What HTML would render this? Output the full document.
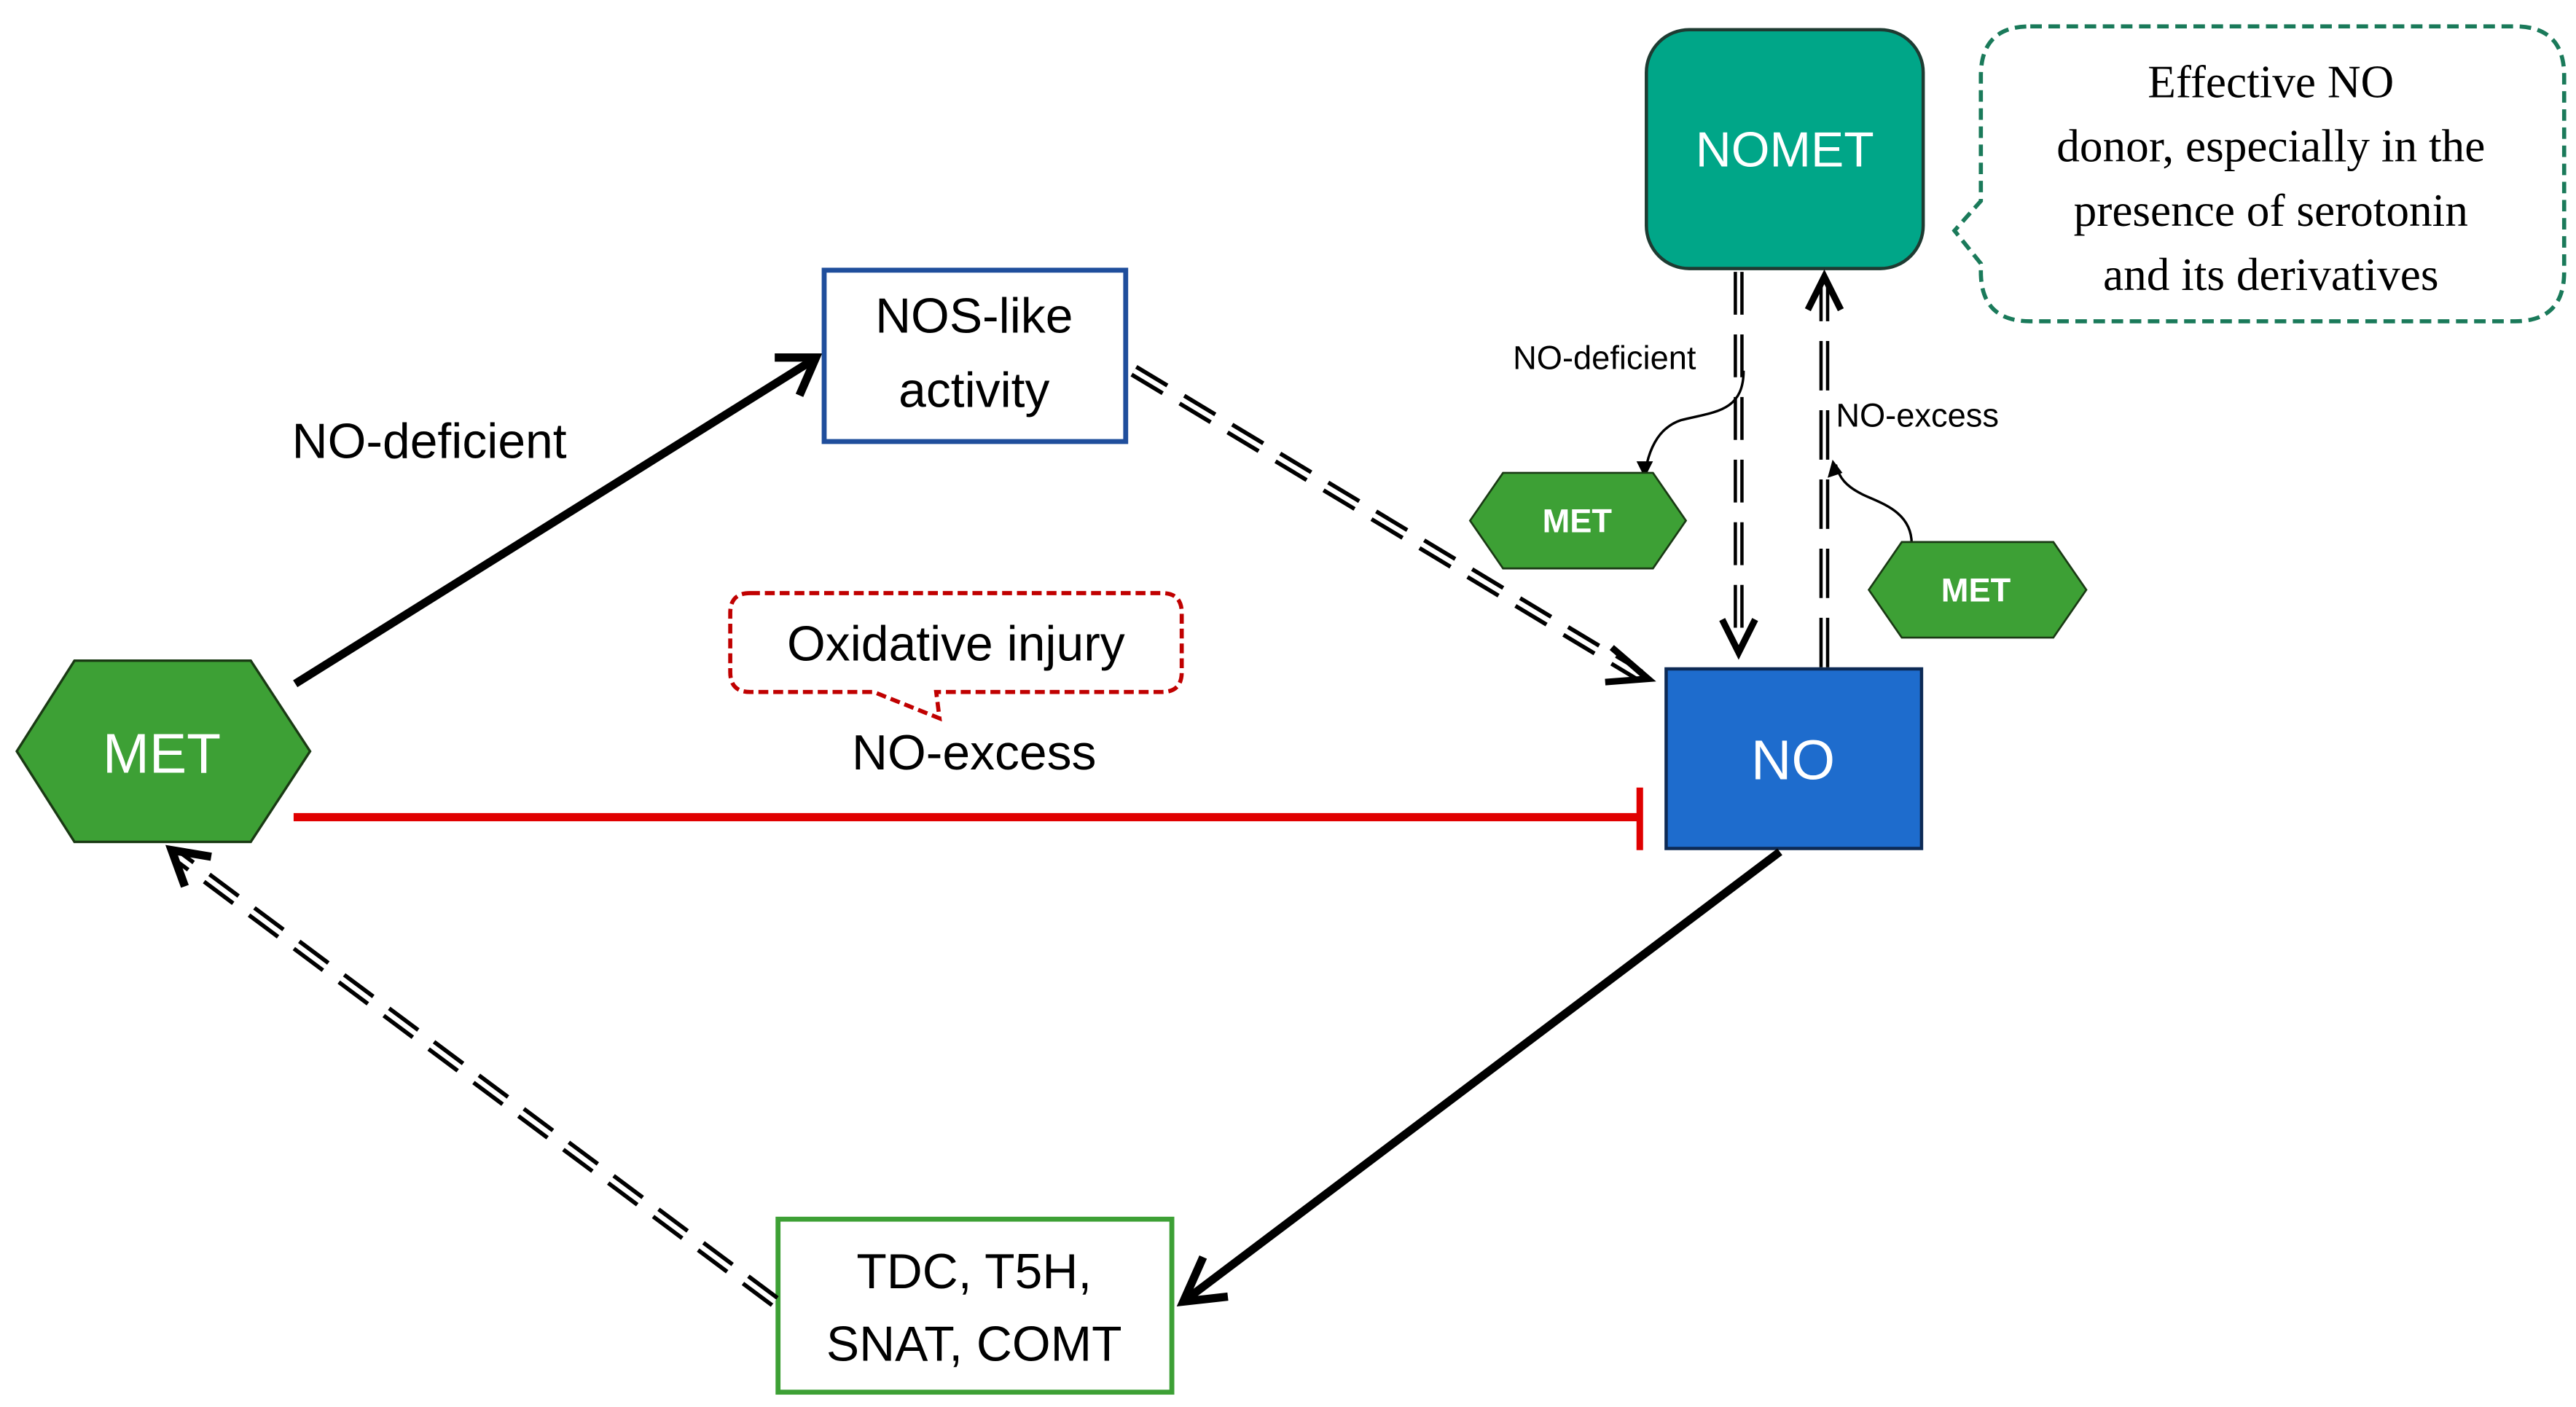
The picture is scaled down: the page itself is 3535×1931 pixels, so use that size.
<!DOCTYPE html>
<html><head><meta charset="utf-8"><style>
html,body{margin:0;padding:0;background:#fff;}
svg{display:block;}
</style></head><body>
<svg width="3535" height="1931" viewBox="0 0 1563 854" xmlns="http://www.w3.org/2000/svg" font-family="'Liberation Sans', sans-serif">
<defs>
<marker id="ah" viewBox="0 0 10 10" refX="9" refY="5" markerWidth="5" markerHeight="5" orient="auto" markerUnits="userSpaceOnUse" style="overflow:visible">
</marker>
</defs>
<rect width="1563" height="854" fill="#fff"/>

<!-- MET -> NOS solid -->
<line x1="179" y1="415" x2="494" y2="218" stroke="#000" stroke-width="5"/>
<polyline points="470,217 495,217 485,240" fill="none" stroke="#000" stroke-width="5" stroke-linejoin="miter"/>
<text x="177" y="278" font-size="30">NO-deficient</text>

<!-- NOS-like box -->
<rect x="500" y="164" width="183" height="104" fill="#fff" stroke="#1f4e9c" stroke-width="3"/>
<text x="591" y="202" font-size="30" text-anchor="middle">NOS-like</text>
<text x="591" y="247" font-size="30" text-anchor="middle">activity</text>

<!-- dashed NOS -> NO -->
<line x1="688" y1="225" x2="995" y2="410" stroke="#000" stroke-width="8" stroke-dasharray="22,12"/>
<line x1="688" y1="225" x2="995" y2="410" stroke="#fff" stroke-width="3" />
<polyline points="978,393 1000,412 974,414" fill="none" stroke="#000" stroke-width="4"/>

<!-- Oxidative injury bubble -->
<path d="M455,360 H705 Q717,360 717,372 V408 Q717,420 705,420 H568 L570,436 L530,420 H455 Q443,420 443,408 V372 Q443,360 455,360 Z" fill="#fff" stroke="#c00000" stroke-width="2.5" stroke-dasharray="6,3"/>
<text x="580" y="401" font-size="30" text-anchor="middle">Oxidative injury</text>
<text x="591" y="467" font-size="30" text-anchor="middle">NO-excess</text>

<!-- red inhibition -->
<line x1="178" y1="496" x2="995" y2="496" stroke="#e00000" stroke-width="5"/>
<line x1="995" y1="478" x2="995" y2="516" stroke="#e00000" stroke-width="4"/>

<!-- MET hexagon -->
<polygon points="10,456 45,401 152,401 188,456 152,511 45,511" fill="#3da035" stroke="#1a3a14" stroke-width="1.5"/>
<text x="98" y="469" font-size="34" fill="#fff" text-anchor="middle">MET</text>

<!-- NO box -->
<rect x="1011" y="406" width="155" height="109" fill="#1e6ccd" stroke="#0d2a55" stroke-width="2"/>
<text x="1088" y="473" font-size="34" fill="#fff" text-anchor="middle">NO</text>

<!-- NO -> TDC -->
<line x1="1080" y1="517" x2="722" y2="787" stroke="#000" stroke-width="5"/>
<polyline points="730,763 718,790 745,787" fill="none" stroke="#000" stroke-width="5"/>

<!-- TDC box -->
<rect x="472" y="740" width="239" height="105" fill="#fff" stroke="#3da035" stroke-width="3"/>
<text x="591" y="782" font-size="30" text-anchor="middle">TDC, T5H,</text>
<text x="591" y="826" font-size="30" text-anchor="middle">SNAT, COMT</text>

<!-- dashed TDC -> MET -->
<line x1="470" y1="790" x2="108" y2="520" stroke="#000" stroke-width="8" stroke-dasharray="22,12"/>
<line x1="470" y1="790" x2="108" y2="520" stroke="#fff" stroke-width="3"/>
<polyline points="128,520 104,516 112,538" fill="none" stroke="#000" stroke-width="5"/>

<!-- NOMET -->
<rect x="999" y="18" width="168" height="145" rx="26" fill="#00a688" stroke="#1e3b32" stroke-width="2"/>
<text x="1083" y="101" font-size="30" fill="#fff" text-anchor="middle">NOMET</text>

<!-- speech bubble -->
<path d="M1232,16 H1526 Q1556,16 1556,46 V165 Q1556,195 1526,195 H1232 Q1202,195 1202,165 V160 L1186,140 L1202,122 V46 Q1202,16 1232,16 Z" fill="#fff" stroke="#1a7a5a" stroke-width="2.5" stroke-dasharray="7,4"/>
<g font-family="'Liberation Serif', serif" font-size="28" text-anchor="middle">
<text x="1378" y="59">Effective NO</text>
<text x="1378" y="98">donor, especially  in the</text>
<text x="1378" y="137">presence  of serotonin</text>
<text x="1378" y="176">and its derivatives</text>
</g>

<!-- vertical down NOMET -> NO -->
<line x1="1055" y1="165" x2="1055" y2="392" stroke="#000" stroke-width="6" stroke-dasharray="26,12"/>
<line x1="1055" y1="165" x2="1055" y2="392" stroke="#fff" stroke-width="2"/>
<polyline points="1045,376 1055,396 1065,376" fill="none" stroke="#000" stroke-width="4"/>
<!-- vertical up NO -> NOMET -->
<line x1="1107" y1="405" x2="1107" y2="170" stroke="#000" stroke-width="6" stroke-dasharray="30,12"/>
<line x1="1107" y1="405" x2="1107" y2="170" stroke="#fff" stroke-width="2"/>
<polyline points="1097,188 1107,168 1117,188" fill="none" stroke="#000" stroke-width="4"/>

<text x="918" y="224" font-size="20">NO-deficient</text>
<text x="1114" y="259" font-size="20">NO-excess</text>

<!-- curved thin arrows -->
<path d="M1058,225 C1058,250 1040,250 1020,255 C1005,260 1000,275 998,288" fill="none" stroke="#000" stroke-width="1.5"/>
<polygon points="993,280 1003,280 998,290" fill="#000"/>
<path d="M1160,330 C1160,310 1140,305 1130,300 C1120,295 1116,290 1114,282" fill="none" stroke="#000" stroke-width="1.5"/>
<polygon points="1109,290 1118,287 1112,279" fill="#000"/>

<!-- small METs -->
<polygon points="892,316 912,287 1003,287 1023,316 1003,345 912,345" fill="#3da035" stroke="#1a3a14" stroke-width="1.2"/>
<text x="957" y="323" font-size="20" font-weight="bold" fill="#fff" text-anchor="middle">MET</text>
<polygon points="1134,358 1154,329 1246,329 1266,358 1246,387 1154,387" fill="#3da035" stroke="#1a3a14" stroke-width="1.2"/>
<text x="1199" y="365" font-size="20" font-weight="bold" fill="#fff" text-anchor="middle">MET</text>
</svg>
</body></html>
